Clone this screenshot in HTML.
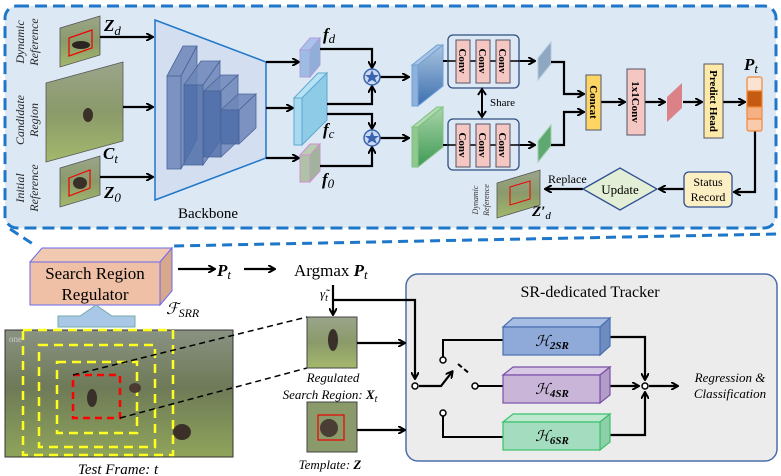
<!DOCTYPE html>
<html><head><meta charset="utf-8"><style>
html,body{margin:0;padding:0;background:#fff;}
svg{display:block;font-family:"Liberation Serif",serif;}
svg text{font-family:"Liberation Serif",serif;}
</style></head><body>
<svg width="781" height="476" viewBox="0 0 781 476" xmlns="http://www.w3.org/2000/svg" font-family="Liberation Serif, serif">
<defs>
<marker id="ah" markerWidth="8" markerHeight="8" refX="6" refY="4" orient="auto" markerUnits="userSpaceOnUse">
<path d="M0,0 L7,4 L0,8" fill="none" stroke="#000" stroke-width="2"/></marker>
<linearGradient id="grass" x1="0" y1="0" x2="0" y2="1"><stop offset="0" stop-color="#9aa58a"/><stop offset="0.5" stop-color="#8b9a6a"/><stop offset="1" stop-color="#a4b86c"/></linearGradient>
<linearGradient id="blueS" x1="0" y1="0" x2="0" y2="1"><stop offset="0" stop-color="#a9c4e0"/><stop offset="1" stop-color="#3c6fae"/></linearGradient>
<linearGradient id="greenS" x1="0" y1="0" x2="0" y2="1"><stop offset="0" stop-color="#a8d4a8"/><stop offset="1" stop-color="#3e9a55"/></linearGradient>
<linearGradient id="frame" x1="0" y1="0" x2="0" y2="1"><stop offset="0" stop-color="#8a9282"/><stop offset="0.45" stop-color="#6e7a58"/><stop offset="1" stop-color="#8fa45a"/></linearGradient>
</defs>

<rect x="5" y="6" width="771" height="222" rx="12" fill="#dde8f5" stroke="#1f77c9" stroke-width="3" stroke-dasharray="12,6"/>
<path d="M10,229 L36,246" stroke="#1f77c9" stroke-width="3" stroke-dasharray="10,6" fill="none"/>
<path d="M776,234 L172,246" stroke="#1f77c9" stroke-width="3" stroke-dasharray="10,6" fill="none"/>

<g font-style="italic" font-size="12" fill="#222" text-anchor="middle">
<text transform="translate(24,42) rotate(-90)">Dynamic</text>
<text transform="translate(38,42) rotate(-90)">Reference</text>
<text transform="translate(24,120) rotate(-90)">Candidate</text>
<text transform="translate(38,120) rotate(-90)">Region</text>
<text transform="translate(24,188) rotate(-90)">Initial</text>
<text transform="translate(38,188) rotate(-90)">Reference</text>
</g>

<polygon points="60,28 100,16 100,55 60,67" fill="url(#grass)" stroke="#555" stroke-width="0.8"/>
<polygon points="69,38 92,30 92,48 69,56" fill="none" stroke="#e00" stroke-width="1.2"/>
<ellipse cx="81" cy="45" rx="9" ry="4" fill="#2a2520"/>
<polygon points="46,83 123,62 123,141 46,162" fill="url(#grass)" stroke="#555" stroke-width="0.8"/>
<ellipse cx="88" cy="115" rx="5" ry="7" fill="#3a3028"/>
<polygon points="60,168 100,156 100,195 60,207" fill="url(#grass)" stroke="#555" stroke-width="0.8"/>
<polygon points="69,178 90,170 90,188 69,196" fill="none" stroke="#e00" stroke-width="1.2"/>
<ellipse cx="80" cy="183" rx="7" ry="6" fill="#3a3028"/>
<g font-weight="bold" font-style="italic" font-size="17" fill="#000">
<text x="104" y="31">Z<tspan font-weight="normal" font-size="13" dy="4">d</tspan></text>
<text x="103" y="159">C<tspan font-weight="normal" font-size="13" dy="4">t</tspan></text>
<text x="104" y="198">Z<tspan font-weight="normal" font-size="13" dy="4">0</tspan></text>
</g>
<g stroke="#000" stroke-width="2.2" fill="none" marker-end="url(#ah)">
<line x1="100" y1="37" x2="152" y2="37"/>
<line x1="123" y1="107" x2="152" y2="107"/>
<line x1="100" y1="177" x2="152" y2="177"/>
</g>

<polygon points="155,20 266,62 266,158 155,200" fill="#d3dff0" stroke="#1f77c9" stroke-width="1.5"/>
<g fill="#6c86b8" stroke="#4a639a" stroke-width="0.8" fill-opacity="0.85">
<polygon points="167,76 183,46 197,46 181,76"/><polygon points="181,76 197,46 197,139 181,169"/><rect x="167" y="76" width="14" height="93"/>
<polygon points="184,85 201,61 220,61 203,85"/><polygon points="203,85 220,61 220,141 203,165"/><rect x="184" y="85" width="19" height="80" fill="#4e6da8"/>
<polygon points="204,91 221,75 238,75 221,91"/><polygon points="221,91 238,75 238,141 221,157"/><rect x="204" y="91" width="17" height="66" fill="#4e6da8"/>
<polygon points="221,110 238,94 256,94 239,110"/><polygon points="239,110 256,94 256,128 239,144"/><rect x="221" y="110" width="18" height="34" fill="#4e6da8"/>
</g>
<text x="208" y="218" font-size="15" text-anchor="middle">Backbone</text>

<g stroke="#000" stroke-width="2.2" fill="none" marker-end="url(#ah)">
<line x1="266" y1="62" x2="298" y2="62"/>
<line x1="266" y1="108" x2="292" y2="108"/>
<line x1="266" y1="158" x2="298" y2="158"/>
</g>
<polygon points="300,50 310,38 320,38 310,50" fill="#a9c4ea" stroke="#b29bd8"/><polygon points="310,50 320,38 320,65 310,77" fill="#8eb0d8" stroke="#b29bd8"/><rect x="300" y="50" width="10" height="27" fill="#9cbce4" stroke="#b29bd8"/>
<polygon points="294,98 318,73 327,73 302,98" fill="#b7e2f5" stroke="#5fa8d0"/><polygon points="302,98 327,73 327,120 302,145" fill="#8ecbe6" stroke="#5fa8d0"/><rect x="294" y="98" width="8" height="47" fill="#a8dbf1" stroke="#5fa8d0"/>
<polygon points="300,155 310,144 320,144 310,155" fill="#b9cdb0" stroke="#d090d0"/><polygon points="310,155 320,144 320,171 310,182" fill="#9fb59a" stroke="#d090d0"/><rect x="300" y="155" width="10" height="27" fill="#aec2a6" stroke="#d090d0"/>
<g font-weight="bold" font-style="italic" font-size="17">
<text x="323" y="40">f<tspan font-weight="normal" font-size="13" dy="3">d</tspan></text>
<text x="323" y="135">f<tspan font-weight="normal" font-size="13" dy="3">c</tspan></text>
<text x="322" y="185">f<tspan font-weight="normal" font-size="13" dy="3">0</tspan></text>
</g>
<g stroke="#000" stroke-width="2.2" fill="none" marker-end="url(#ah)">
<polyline points="320,49 372,49 372,67"/>
<polyline points="327,104 372,104 372,87"/>
<polyline points="327,114 372,114 372,128"/>
<polyline points="320,166 372,166 372,148"/>
<line x1="380" y1="77" x2="408" y2="77"/>
<line x1="380" y1="138" x2="408" y2="138"/>
</g>
<g>
<circle cx="372" cy="77" r="8" fill="#c9d9f0" stroke="#3a64b0" stroke-width="1.5"/>
<circle cx="372" cy="138" r="8" fill="#c9d9f0" stroke="#3a64b0" stroke-width="1.5"/>
<polygon points="372,70 374,75 379,75 375,78 377,83 372,80 367,83 369,78 365,75 370,75" fill="#3a64b0"/>
<polygon points="372,131 374,136 379,136 375,139 377,144 372,141 367,144 369,139 365,136 370,136" fill="#3a64b0"/>
</g>
<polygon points="412,65 418,65 443,45 437,45" fill="#a9c4e0" stroke="#6fa0d8"/>
<polygon points="418,65 443,45 443,86 418,106" fill="url(#blueS)" stroke="#6fa0d8"/>
<rect x="412" y="65" width="6" height="41" fill="#8eb2dc" stroke="#6fa0d8"/>
<polygon points="412,127 418,127 443,107 437,107" fill="#b0dab0" stroke="#80c080"/>
<polygon points="418,127 443,107 443,147 418,167" fill="url(#greenS)" stroke="#80c080"/>
<rect x="412" y="127" width="6" height="40" fill="#90c890" stroke="#80c080"/>
<g stroke="#000" stroke-width="2" fill="none" marker-end="url(#ah)">
<line x1="443" y1="61" x2="534" y2="61"/>
<line x1="443" y1="145" x2="534" y2="145"/>
</g>
<rect x="448" y="35" width="71" height="53" rx="5" fill="#dde8f5" stroke="#2f4f80" stroke-width="1.3"/>
<rect x="448" y="119" width="71" height="51" rx="5" fill="#dde8f5" stroke="#2f4f80" stroke-width="1.3"/>
<g stroke="#000" stroke-width="1.5"><line x1="448" y1="61" x2="519" y2="61"/><line x1="448" y1="145" x2="519" y2="145"/></g>
<g fill="#f4c7c3" stroke="#556" stroke-width="1">
<rect x="456" y="40" width="14" height="43"/><rect x="476" y="40" width="14" height="43"/><rect x="496" y="40" width="14" height="43"/>
<rect x="456" y="124" width="14" height="43"/><rect x="476" y="124" width="14" height="43"/><rect x="496" y="124" width="14" height="43"/>
</g>
<g font-size="11" font-weight="bold" text-anchor="middle">
<text transform="translate(459,61) rotate(90)">Conv</text>
<text transform="translate(479,61) rotate(90)">Conv</text>
<text transform="translate(499,61) rotate(90)">Conv</text>
<text transform="translate(459,145) rotate(90)">Conv</text>
<text transform="translate(479,145) rotate(90)">Conv</text>
<text transform="translate(499,145) rotate(90)">Conv</text>
</g>
<line x1="482" y1="91" x2="482" y2="115" stroke="#000" stroke-width="2"/>
<path d="M478,95 L482,89 L486,95 M478,111 L482,117 L486,111" stroke="#000" stroke-width="2" fill="none"/>
<text x="490" y="106" font-size="11">Share</text>
<polygon points="538,58 551,42 551,64 538,80" fill="#8fa8c2" stroke="#b5c8da"/>
<polygon points="538,141 551,125 551,146 538,162" fill="#5ea872" stroke="#a0cfa8"/>
<g stroke="#000" stroke-width="2.2" fill="none" marker-end="url(#ah)">
<polyline points="551,62 564,62 564,94 583,94"/>
<polyline points="551,145 564,145 564,112 583,112"/>
<line x1="601" y1="102" x2="624" y2="102"/>
<line x1="645" y1="102" x2="664" y2="102"/>
<line x1="683" y1="102" x2="701" y2="102"/>
<line x1="723" y1="102" x2="744" y2="102"/>
<polyline points="755,131 755,192 735,192"/>
<line x1="684" y1="189" x2="660" y2="189"/>
<line x1="583" y1="189" x2="546" y2="189"/>
</g>
<rect x="586" y="75" width="15" height="55" fill="#fdd565" stroke="#556"/>
<text transform="translate(590,102) rotate(90)" font-size="11" font-weight="bold" text-anchor="middle">Concat</text>
<rect x="627" y="69" width="18" height="66" fill="#f4c7c3" stroke="#556"/>
<text transform="translate(632,102) rotate(90)" font-size="11" font-weight="bold" text-anchor="middle">1x1Conv</text>
<polygon points="667,97 682,83 682,108 667,122" fill="#d9686c" opacity="0.8"/>
<rect x="704" y="64" width="19" height="74" fill="#fde9a8" stroke="#556"/>
<text transform="translate(710,101) rotate(90)" font-size="11" font-weight="bold" text-anchor="middle">Predict Head</text>
<g stroke="#f0883a" stroke-width="1.2">
<rect x="747" y="77" width="15" height="14" rx="2" fill="#fbe3d3"/>
<rect x="747" y="91" width="15" height="16" fill="#c55a11"/>
<rect x="747" y="107" width="15" height="12" fill="#f4b183"/>
<rect x="747" y="119" width="15" height="12" rx="2" fill="#f8cbad"/>
</g>
<text x="744" y="70" font-size="17" font-weight="bold" font-style="italic">P<tspan font-weight="normal" font-size="13" dy="3">t</tspan></text>
<rect x="684" y="172" width="48" height="35" rx="5" fill="#fdefc4" stroke="#2f4f90" stroke-width="1.3"/>
<text x="708" y="186" font-size="12" text-anchor="middle">Status</text>
<text x="708" y="201" font-size="12" text-anchor="middle">Record</text>
<polygon points="583,189 620,168 657,189 620,210" fill="#e3eed7" stroke="#2f4f90" stroke-width="1.3"/>
<text x="620" y="194" font-size="13" text-anchor="middle">Update</text>
<text x="548" y="183" font-size="12">Replace</text>
<polygon points="497,183 540,170 540,205 497,218" fill="url(#grass)" stroke="#555" stroke-width="0.8"/>
<polygon points="510,187 530,181 530,199 510,205" fill="none" stroke="#e00" stroke-width="1"/>
<g font-style="italic" font-size="8" fill="#333" text-anchor="middle">
<text transform="translate(478,200) rotate(-90)">Dynamic</text>
<text transform="translate(489,200) rotate(-90)">Reference</text>
</g>
<text x="532" y="216" font-size="15" font-weight="bold" font-style="italic">Z′<tspan font-weight="normal" font-size="11" dy="3">d</tspan></text>

<polygon points="30,262 42,248 172,248 160,262" fill="#f1c8b0" stroke="#6a6af0"/>
<polygon points="160,262 172,248 172,291 160,305" fill="#d8a88c" stroke="#6a6af0"/>
<rect x="30" y="262" width="130" height="43" fill="#efc0a6" stroke="#6a6af0"/>
<text x="95" y="279" font-size="17" text-anchor="middle">Search Region</text>
<text x="95" y="300" font-size="17" text-anchor="middle">Regulator</text>
<text x="166" y="314" font-size="16" font-style="italic">ℱ<tspan font-size="12" dy="3">SRR</tspan></text>
<g stroke="#000" stroke-width="2.2" fill="none" marker-end="url(#ah)">
<line x1="178" y1="269" x2="214" y2="269"/>
<line x1="244" y1="269" x2="274" y2="269"/>
</g>
<text x="217" y="276" font-size="17" font-weight="bold" font-style="italic">P<tspan font-weight="normal" font-size="13" dy="3">t</tspan></text>
<text x="294" y="276" font-size="17">Argmax <tspan font-weight="bold" font-style="italic">P</tspan><tspan font-style="italic" font-size="13" dy="3">t</tspan></text>
<polygon points="58,327 58,316 80,316 96,305 112,316 135,316 135,327" fill="#a9c8e8" stroke="#7aa"/>
<rect x="5" y="330" width="228" height="127" fill="url(#frame)" stroke="#333"/>
<text x="9" y="342" font-size="9" fill="#ccc">one</text>
<g fill="none" stroke="#ffff20" stroke-width="2.5" stroke-dasharray="9,6">
<rect x="23" y="330" width="150" height="125"/>
<rect x="39" y="345" width="116" height="102"/>
<rect x="57" y="362" width="80" height="71"/>
</g>
<rect x="73" y="375" width="47" height="43" fill="none" stroke="#f00" stroke-width="2.5" stroke-dasharray="7,5"/>
<ellipse cx="92" cy="398" rx="5" ry="9" fill="#3a302a"/>
<ellipse cx="135" cy="388" rx="6" ry="5" fill="#4a3a30"/>
<ellipse cx="182" cy="432" rx="9" ry="8" fill="#3a3028"/>
<text x="118" y="474" font-size="15" font-style="italic" text-anchor="middle">Test Frame: t</text>
<g stroke="#000" stroke-width="1.5" stroke-dasharray="6,4">
<line x1="73" y1="375" x2="307" y2="317"/>
<line x1="120" y1="418" x2="307" y2="368"/>
</g>
<rect x="307" y="317" width="50" height="51" fill="url(#grass)" stroke="#444"/>
<ellipse cx="333" cy="340" rx="5" ry="11" fill="#3a302a"/>
<text x="333" y="382" font-size="13" font-style="italic" text-anchor="middle">Regulated</text>
<text x="330" y="399" font-size="13" font-style="italic" text-anchor="middle">Search Region: <tspan font-weight="bold">X</tspan><tspan font-size="10" dy="3">t</tspan></text>
<rect x="307" y="402" width="50" height="50" fill="#8a9a6a" stroke="#444"/>
<ellipse cx="329" cy="428" rx="9" ry="9" fill="#4a3e34"/>
<rect x="318" y="415" width="26" height="25" fill="none" stroke="#e00" stroke-width="1.2"/>
<text x="330" y="469" font-size="13" font-style="italic" text-anchor="middle">Template: <tspan font-weight="bold">Z</tspan></text>

<rect x="406" y="274" width="371" height="187" rx="12" fill="#ececec" stroke="#4a6fa8" stroke-width="1.5"/>
<text x="590" y="297" font-size="16" text-anchor="middle">SR-dedicated Tracker</text>
<g stroke="#000" stroke-width="2.2" fill="none" marker-end="url(#ah)">
<line x1="333" y1="285" x2="333" y2="314"/>
<polyline points="333,300 415,300 415,378"/>
<line x1="357" y1="343" x2="404" y2="343"/>
<line x1="357" y1="430" x2="404" y2="430"/>
<polyline points="419,386 441,386 452,372"/>
<polyline points="610,337 645,337 645,379"/>
<line x1="610" y1="386" x2="638" y2="386"/>
<polyline points="610,435 645,435 645,393"/>
<line x1="649" y1="386" x2="677" y2="386"/>
</g>
<text x="320" y="298" font-size="13" font-style="italic">γ̃<tspan font-size="10" dy="3">t</tspan></text>
<g stroke="#000" stroke-width="2" fill="none">
<polyline points="443,357 443,340 503,340"/>
<line x1="478" y1="386" x2="503" y2="386"/>
<polyline points="443,416 443,437 503,437"/>
<line x1="458" y1="364" x2="470" y2="374" stroke-dasharray="5,3"/>
</g>
<g fill="#fff" stroke="#000" stroke-width="1.5">
<circle cx="415" cy="386" r="3"/><circle cx="443" cy="360" r="3"/><circle cx="475" cy="386" r="3"/><circle cx="443" cy="413" r="3"/><circle cx="645" cy="386" r="3"/>
</g>
<g stroke-width="1.2">
<polygon points="503,327 513,318 610,318 600,327" fill="#a8bde3" stroke="#4a6fb0"/>
<polygon points="600,327 610,318 610,346 600,355" fill="#6f8cc0" stroke="#4a6fb0"/>
<rect x="503" y="327" width="97" height="28" fill="#8fa9d8" stroke="#4a6fb0"/>
<polygon points="503,375 513,367 610,367 600,375" fill="#d8c8e4" stroke="#7a4fa8"/>
<polygon points="600,375 610,367 610,395 600,403" fill="#b49cc8" stroke="#7a4fa8"/>
<rect x="503" y="375" width="97" height="28" fill="#c8b5d8" stroke="#7a4fa8"/>
<polygon points="503,422 513,414 610,414 600,422" fill="#bfe8d0" stroke="#3cc06c"/>
<polygon points="600,422 610,414 610,442 600,450" fill="#8ccfa8" stroke="#3cc06c"/>
<rect x="503" y="422" width="97" height="28" fill="#a3dcbe" stroke="#3cc06c"/>
</g>
<g font-size="15" font-style="italic" text-anchor="middle">
<text x="552" y="346">ℋ<tspan font-size="11" font-weight="bold" dy="3">2SR</tspan></text>
<text x="552" y="394">ℋ<tspan font-size="11" font-weight="bold" dy="3">4SR</tspan></text>
<text x="552" y="441">ℋ<tspan font-size="11" font-weight="bold" dy="3">6SR</tspan></text>
</g>
<text x="730" y="382" font-size="13" font-style="italic" text-anchor="middle">Regression &amp;</text>
<text x="730" y="398" font-size="13" font-style="italic" text-anchor="middle">Classification</text>
</svg>
</body></html>
